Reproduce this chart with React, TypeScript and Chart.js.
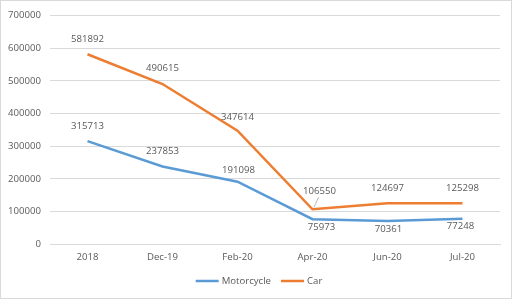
import React, { useEffect, useRef } from "react";
import { Chart, registerables } from "chart.js";

Chart.register(...registerables);

const categories = ["2018", "Dec-19", "Feb-20", "Apr-20", "Jun-20", "Jul-20"];
const motorcycle = [315713, 237853, 191098, 75973, 70361, 77248];
const car = [581892, 490615, 347614, 106550, 124697, 125298];
const yTicks = [0, 100000, 200000, 300000, 400000, 500000, 600000, 700000];

// label placement styles (offsets in px relative to the point)
const motoLabelDx = [0, 0, 1, 9, 1, -2];
const motoLabelDy = [-15, -15, -11, 8.5, 8.5, 7];
const carLabelDx = [0, 0, 0, 7, 0, 0];
const carLabelDy = [-15, -15.5, -13, -18, -15, -15];
const carLeader = [false, false, false, true, false, false];

const FONT = "'Open Sans', 'Liberation Sans', sans-serif";
const TEXT = "#595959";
const FS = 9.6;

const labelPlugin = {
  id: "dataLabels",
  afterDatasetsDraw(chart: any) {
    const ctx = chart.ctx;
    ctx.save();
    ctx.font = `${FS}px ${FONT}`;
    ctx.fillStyle = TEXT;
    ctx.textAlign = "center";
    ctx.textBaseline = "middle";
    chart.data.datasets.forEach((ds: any, di: number) => {
      const meta = chart.getDatasetMeta(di);
      const dxs = di === 0 ? motoLabelDx : carLabelDx;
      const dys = di === 0 ? motoLabelDy : carLabelDy;
      meta.data.forEach((pt: any, i: number) => {
        const x = pt.x + dxs[i];
        const y = pt.y + dys[i];
        if (di === 1 && carLeader[i]) {
          ctx.save();
          ctx.strokeStyle = "#A6A6A6";
          ctx.lineWidth = 0.8;
          ctx.beginPath();
          ctx.moveTo(pt.x + 1.5, pt.y - 2);
          ctx.lineTo(x - 1, y + 6);
          ctx.stroke();
          ctx.restore();
        }
        ctx.fillText(String(ds.data[i]), x, y);
      });
    });
    ctx.restore();
  },
};

const legendPlugin = {
  id: "bottomLegend",
  afterDraw(chart: any) {
    const ctx = chart.ctx;
    ctx.save();
    ctx.font = `${FS}px ${FONT}`;
    ctx.textBaseline = "middle";
    ctx.textAlign = "left";
    const lineW = 23;
    const gapText = 3;
    const gapItem = 10;
    const items = chart.data.datasets.map((ds: any) => ({
      label: ds.label,
      color: ds.borderColor,
      w: lineW + gapText + ctx.measureText(ds.label).width,
    }));
    const total = items.reduce((s: number, it: any) => s + it.w, 0) + gapItem * (items.length - 1);
    let x = chart.width / 2 + 3 - total / 2;
    const y = chart.height - 17;
    items.forEach((it: any) => {
      ctx.strokeStyle = it.color;
      ctx.lineWidth = 2.5;
      ctx.beginPath();
      ctx.moveTo(x, y);
      ctx.lineTo(x + lineW, y);
      ctx.stroke();
      ctx.fillStyle = TEXT;
      ctx.fillText(it.label, x + lineW + gapText, y);
      x += it.w + gapItem;
    });
    ctx.restore();
  },
};

export default function App() {
  const ref = useRef<HTMLCanvasElement>(null);
  useEffect(() => {
    if (!ref.current) return;
    const chart = new Chart(ref.current, {
      type: "line",
      data: {
        labels: categories,
        datasets: [
          {
            label: "Motorcycle",
            data: motorcycle,
            borderColor: "#5B9BD5",
            backgroundColor: "#5B9BD5",
            borderWidth: 2.5,
            pointRadius: 0,
            tension: 0,
          },
          {
            label: "Car",
            data: car,
            borderColor: "#ED7D31",
            backgroundColor: "#ED7D31",
            borderWidth: 2.5,
            pointRadius: 0,
            tension: 0,
          },
        ],
      },
      options: {
        animation: false,
        responsive: false,
        maintainAspectRatio: false,
        layout: { padding: { left: 0, right: 11, top: 9.5, bottom: 34 } },
        plugins: {
          tooltip: { enabled: false },
          legend: { display: false },
        },
        scales: {
          x: {
            type: "category",
            offset: true,
            grid: { display: false, drawTicks: false },
            border: { display: true, color: "#D9D9D9", width: 1 },
            ticks: {
              color: TEXT,
              font: { family: FONT, size: FS },
              padding: 8,
              maxRotation: 0,
              autoSkip: false,
            },
            afterFit(scale: any) {
              scale.height = 20;
            },
          },
          y: {
            min: 0,
            max: 700000,
            afterBuildTicks(scale: any) {
              scale.ticks = yTicks.map((v) => ({ value: v }));
            },
            grid: { color: "#D9D9D9", lineWidth: 1, drawTicks: false },
            border: { display: false },
            ticks: {
              color: TEXT,
              font: { family: FONT, size: FS },
              padding: 9,
              callback: (v: any) => String(v),
            },
            afterFit(scale: any) {
              scale.width = 49;
            },
          },
        },
      },
      plugins: [labelPlugin, legendPlugin],
    });
    return () => chart.destroy();
  }, []);
  return (
    <div
      style={{
        position: "fixed",
        left: 0,
        top: 0,
        width: 512,
        height: 299,
        boxSizing: "border-box",
        border: "1px solid #D9D9D9",
        background: "#fff",
      }}
    >
      <canvas ref={ref} width={510} height={297} style={{ display: "block", width: 510, height: 297 }} />
    </div>
  );
}
